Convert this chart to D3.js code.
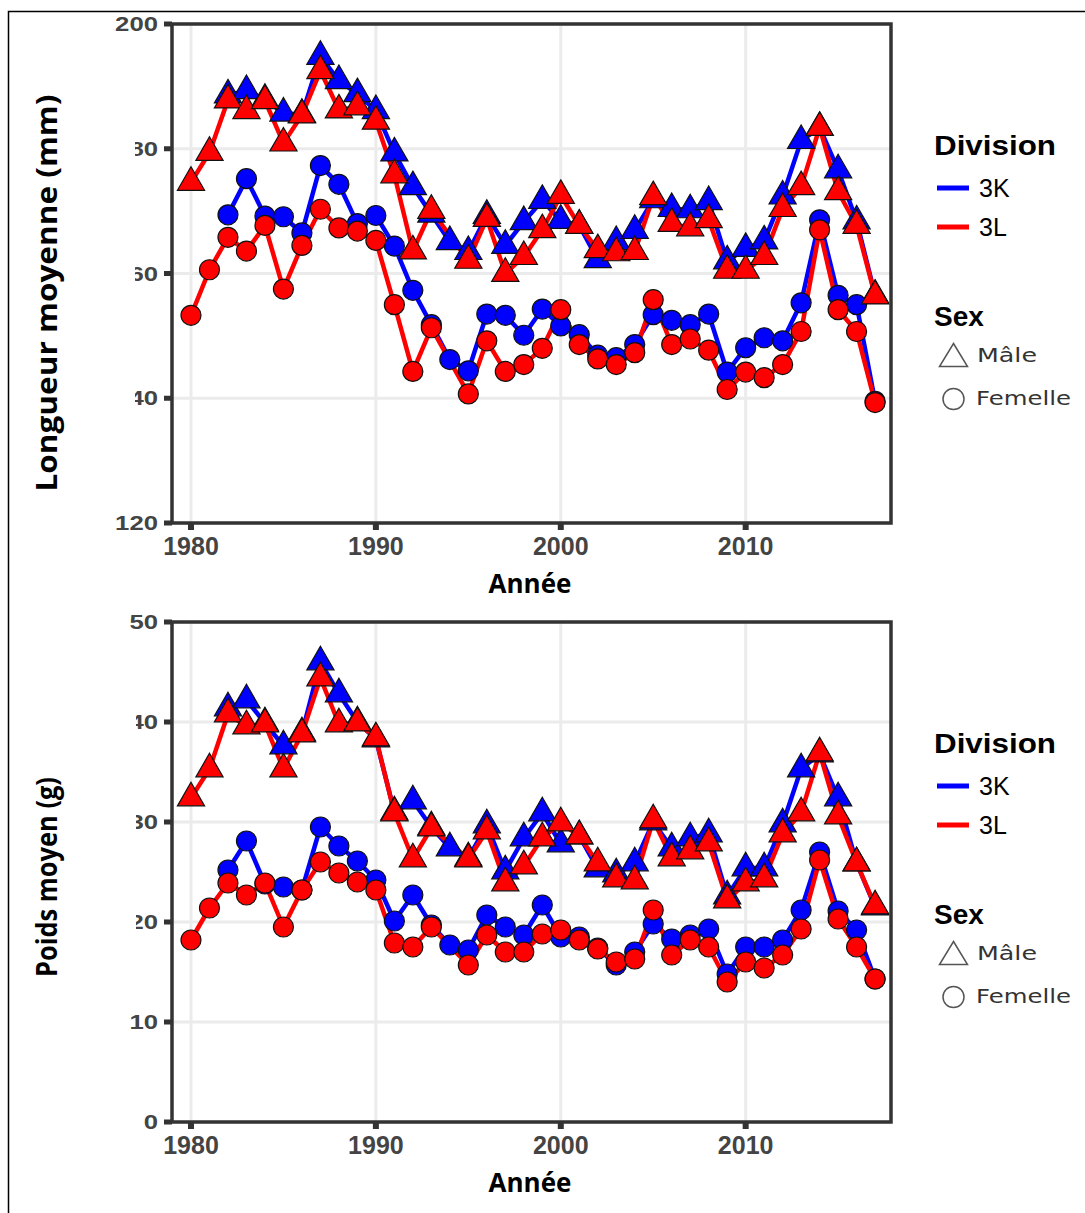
<!DOCTYPE html>
<html>
<head>
<meta charset="utf-8">
<script src="https://cdn.jsdelivr.net/npm/d3@7"></script>
<style>
  body { margin: 0; background: #fff; }
  svg { display: block; }
</style>
</head>
<body>
<svg width="1085" height="1213"></svg>
<script>
"use strict";

const years = [1980, 1981, 1982, 1983, 1984, 1985, 1986, 1987, 1988, 1989,
    1990, 1991, 1992, 1993, 1994, 1995, 1996, 1997, 1998, 1999,
    2000, 2001, 2002, 2003, 2004, 2005, 2006, 2007, 2008, 2009,
    2010, 2011, 2012, 2013, 2014, 2015, 2016, 2017];

// Longueur moyenne (mm)
const lenMale3K = [null, null, 188.6, 189.3, 187.9, 185.7, 185.5, 194.8, 190.9, 188.8,
    186.1, 179.3, 173.9, 169.5, 165.1, 163.5, 169.3, 164.5, 168.3, 171.7,
    168.5, 167.7, 162.2, 165.1, 166.9, 171.8, 170.4, 170.2, 171.5, 162.0,
    164.0, 165.2, 172.4, 181.3, 183.4, 176.6, 168.4, 156.5];
const lenMale3L = [174.6, 179.4, 187.8, 186.1, 187.7, 180.9, 185.4, 192.5, 186.2, 186.7,
    184.4, 175.8, 163.6, 170.1, null, 162.1, 168.8, 160.0, 162.7, 167.0,
    172.5, 167.7, 163.8, 163.3, 163.5, 172.3, 168.0, 167.3, 168.6, 160.5,
    160.5, 162.7, 170.4, 173.9, 183.4, 173.1, 167.7, 156.4];
const lenFem3K = [null, null, 169.4, 175.2, 169.2, 169.1, 166.5, 177.3, 174.3, 168.0,
    169.3, 164.4, 157.3, 151.8, 146.2, 144.4, 153.5, 153.3, 150.1, 154.3,
    151.6, 150.2, 146.9, 146.5, 148.6, 153.4, 152.5, 151.8, 153.5, 144.2,
    148.1, 149.7, 149.2, 155.3, 168.6, 156.5, 155.0, 139.5];
const lenFem3L = [153.3, 160.6, 165.8, 163.6, 167.7, 157.5, 164.5, 170.3, 167.3, 166.8,
    165.3, 155.0, 144.3, 151.3, null, 140.7, 149.2, 144.3, 145.4, 148.0,
    154.2, 148.6, 146.3, 145.4, 147.3, 155.8, 148.6, 149.5, 147.7, 141.4,
    144.2, 143.3, 145.4, 150.7, 167.0, 154.2, 150.7, 139.3];

// Poids moyen (g)
const wtMale3K = [null, null, 41.4, 42.2, 39.9, 37.6, 38.9, 46.0, 42.8, 40.0,
    38.3, 31.0, 32.1, 29.5, 27.4, 26.4, 29.7, 25.1, 28.4, 30.9,
    27.8, 28.6, 25.3, 24.8, 25.9, 30.0, 27.4, 28.4, 28.8, 22.6,
    25.4, 25.4, 29.8, 35.3, 36.8, 32.4, 25.9, 21.5];
const wtMale3L = [32.4, 35.3, 40.8, 39.6, 39.8, 35.3, 38.8, 44.4, 39.8, 39.9,
    38.4, 30.9, 26.3, 29.4, null, 26.3, 29.1, 23.9, 25.6, 28.4,
    29.9, 28.6, 25.9, 24.3, 24.1, 30.2, 26.4, 27.1, 27.9, 22.2,
    23.9, 24.3, 28.8, 30.9, 36.9, 30.6, 25.9, 21.6];
const wtFem3K = [null, null, 25.2, 28.1, 23.8, 23.5, 23.2, 29.5, 27.6, 26.1,
    24.2, 20.1, 22.7, 19.7, 17.7, 17.2, 20.7, 19.5, 18.7, 21.7,
    18.5, 18.5, 17.4, 15.7, 17.0, 19.8, 18.3, 18.7, 19.3, 14.8,
    17.5, 17.5, 18.2, 21.2, 27.0, 21.1, 19.2, 14.3];
const wtFem3L = [18.2, 21.4, 23.9, 22.7, 23.9, 19.5, 23.2, 26.0, 24.9, 24.0,
    23.2, 17.9, 17.5, 19.5, null, 15.7, 18.7, 17.0, 17.0, 18.8,
    19.2, 18.2, 17.3, 16.0, 16.3, 21.2, 16.7, 18.2, 17.5, 14.0,
    16.0, 15.4, 16.7, 19.3, 26.2, 20.3, 17.5, 14.3];

const xTicks = [1980, 1990, 2000, 2010];
const lenTicks = [120, 140, 160, 180, 200];
const wtTicks = [0, 10, 20, 30, 40, 50];

const divColors = { '3K': '#0000ff', '3L': '#ff0000' };

const svg = d3.select('svg');

// outer frame (only left and top visible in the picture)
svg.append('path')
    .attr('d', 'M8.5,1213 L8.5,11.5 L1085,11.5')
    .attr('fill', 'none')
    .attr('stroke', '#000')
    .attr('stroke-width', 1.5);

const x = d3.scaleLinear().domain([1980, 2017]).range([191, 875.1]);

const panels = [
    {
        top: 24, bottom: 523, domain: [120, 200], ticks: lenTicks,
        title: 'Longueur moyenne (mm)', titleY: 293, titleLen: 397,
        mask: { x: 20, y: 67, w: 115, h: 381 },
        series: [
            { div: '3K', sex: 'M', values: lenMale3K },
            { div: '3K', sex: 'F', values: lenFem3K },
            { div: '3L', sex: 'M', values: lenMale3L },
            { div: '3L', sex: 'F', values: lenFem3L }
        ],
        legendDy: 0
    },
    {
        top: 622, bottom: 1122, domain: [0, 50], ticks: wtTicks,
        title: 'Poids moyen (g)', titleY: 877, titleLen: 200,
        mask: { x: 20, y: 698, w: 116, h: 295 },
        series: [
            { div: '3K', sex: 'M', values: wtMale3K },
            { div: '3K', sex: 'F', values: wtFem3K },
            { div: '3L', sex: 'M', values: wtMale3L },
            { div: '3L', sex: 'F', values: wtFem3L }
        ],
        legendDy: 598
    }
];

const left = 172, right = 891;
const triangle = d3.symbol(d3.symbolTriangle, 320);

panels.forEach(p => {
    const y = d3.scaleLinear().domain(p.domain).range([p.bottom, p.top]);
    const g = svg.append('g');

    // grid
    g.selectAll('.hgrid').data(p.ticks).enter().append('line')
        .attr('x1', left).attr('x2', right)
        .attr('y1', d => y(d)).attr('y2', d => y(d))
        .attr('stroke', '#ebebeb').attr('stroke-width', 3);
    g.selectAll('.vgrid').data(xTicks).enter().append('line')
        .attr('x1', d => x(d)).attr('x2', d => x(d))
        .attr('y1', p.top).attr('y2', p.bottom)
        .attr('stroke', '#ebebeb').attr('stroke-width', 3);

    // lines: 3K first, 3L on top
    const line = d3.line().x(d => x(d.year)).y(d => y(d.v));
    p.series.forEach(s => {
        const pts = years.map((yr, i) => ({ year: yr, v: s.values[i] })).filter(d => d.v !== null);
        g.append('path')
            .datum(pts)
            .attr('d', line)
            .attr('fill', 'none')
            .attr('stroke', divColors[s.div])
            .attr('stroke-width', 4.5)
            .attr('stroke-linejoin', 'round');
    });

    // points
    p.series.forEach(s => {
        const pts = years.map((yr, i) => ({ year: yr, v: s.values[i] })).filter(d => d.v !== null);
        if (s.sex === 'M') {
            g.selectAll(null).data(pts).enter().append('path')
                .attr('d', triangle)
                .attr('transform', d => `translate(${x(d.year)},${y(d.v)})`)
                .attr('fill', divColors[s.div])
                .attr('stroke', '#111')
                .attr('stroke-width', 1.2);
        } else {
            g.selectAll(null).data(pts).enter().append('circle')
                .attr('cx', d => x(d.year))
                .attr('cy', d => y(d.v))
                .attr('r', 10)
                .attr('fill', divColors[s.div])
                .attr('stroke', '#111')
                .attr('stroke-width', 1.2);
        }
    });

    // panel frame
    g.append('rect')
        .attr('x', left).attr('y', p.top)
        .attr('width', right - left).attr('height', p.bottom - p.top)
        .attr('fill', 'none')
        .attr('stroke', '#333')
        .attr('stroke-width', 3.5);

    // y ticks
    g.selectAll('.ytick').data(p.ticks).enter().append('rect')
        .attr('x', left - 8).attr('y', d => y(d) - 2.5)
        .attr('width', 8).attr('height', 5)
        .attr('fill', '#333');
    g.selectAll('.ylab').data(p.ticks).enter().append('text')
        .attr('x', 158).attr('y', d => y(d))
        .attr('dy', '0.35em')
        .attr('text-anchor', 'end')
        .attr('font-family', 'Liberation Sans, Arial, sans-serif')
        .attr('font-weight', 'bold')
        .attr('font-size', 20)
        .attr('fill', '#444')
        .attr('textLength', d => String(d).length * 14.3)
        .attr('lengthAdjust', 'spacingAndGlyphs')
        .text(d => d);

    // x ticks
    g.selectAll('.xtick').data(xTicks).enter().append('rect')
        .attr('x', d => x(d) - 3).attr('y', p.bottom)
        .attr('width', 6).attr('height', 7)
        .attr('fill', '#333');
    g.selectAll('.xlab').data(xTicks).enter().append('text')
        .attr('x', d => x(d)).attr('y', p.bottom + 32)
        .attr('text-anchor', 'middle')
        .attr('font-family', 'Liberation Sans, Arial, sans-serif')
        .attr('font-weight', 'bold')
        .attr('font-size', 25)
        .attr('fill', '#444')
        .text(d => d);

    g.append('text')
        .attr('x', 530).attr('y', p.bottom + 70)
        .attr('text-anchor', 'middle')
        .attr('font-family', 'Open Sans, sans-serif')
        .attr('font-weight', 'bold')
        .attr('font-size', 26)
        .attr('fill', '#000')
        .text('Année');

    // white box behind the y title (hides part of the tick labels, as in the picture)
    g.append('rect')
        .attr('x', p.mask.x).attr('y', p.mask.y)
        .attr('width', p.mask.w).attr('height', p.mask.h)
        .attr('fill', '#fff');
    g.append('text')
        .attr('transform', `translate(57,${p.titleY}) rotate(-90)`)
        .attr('text-anchor', 'middle')
        .attr('font-family', 'Open Sans, sans-serif')
        .attr('font-weight', 'bold')
        .attr('font-size', 28)
        .attr('fill', '#000')
        .attr('textLength', p.titleLen)
        .attr('lengthAdjust', 'spacingAndGlyphs')
        .text(p.title);

    // legend
    const lg = svg.append('g').attr('transform', `translate(0,${p.legendDy})`);
    lg.append('text')
        .attr('x', 934).attr('y', 155)
        .attr('font-family', 'Liberation Sans, Arial, sans-serif')
        .attr('font-weight', 'bold').attr('font-size', 28)
        .attr('textLength', 122).attr('lengthAdjust', 'spacingAndGlyphs')
        .text('Division');
    ['3K', '3L'].forEach((dv, i) => {
        const cy = 188 + i * 39;
        lg.append('line')
            .attr('x1', 937).attr('x2', 969)
            .attr('y1', cy).attr('y2', cy)
            .attr('stroke', divColors[dv]).attr('stroke-width', 5);
        lg.append('text')
            .attr('x', 979).attr('y', cy + 9)
            .attr('font-family', 'Liberation Sans, Arial, sans-serif')
            .attr('font-size', 25)
            .text(dv);
    });
    lg.append('text')
        .attr('x', 934).attr('y', 326)
        .attr('font-family', 'Liberation Sans, Arial, sans-serif')
        .attr('font-weight', 'bold').attr('font-size', 28)
        .text('Sex');
    lg.append('path')
        .attr('d', 'M953.5,343.5 L967.5,366.5 L939.5,366.5 Z')
        .attr('fill', 'none').attr('stroke', '#555').attr('stroke-width', 1.5);
    lg.append('text')
        .attr('x', 977).attr('y', 362)
        .attr('font-family', 'DejaVu Sans, sans-serif')
        .attr('font-size', 19).attr('fill', '#333')
        .attr('textLength', 60).attr('lengthAdjust', 'spacingAndGlyphs')
        .text('Mâle');
    lg.append('circle')
        .attr('cx', 953.5).attr('cy', 399).attr('r', 10.5)
        .attr('fill', 'none').attr('stroke', '#555').attr('stroke-width', 1.5);
    lg.append('text')
        .attr('x', 976).attr('y', 405)
        .attr('font-family', 'DejaVu Sans, sans-serif')
        .attr('font-size', 19).attr('fill', '#333')
        .attr('textLength', 95).attr('lengthAdjust', 'spacingAndGlyphs')
        .text('Femelle');
});
</script>
</body>
</html>
